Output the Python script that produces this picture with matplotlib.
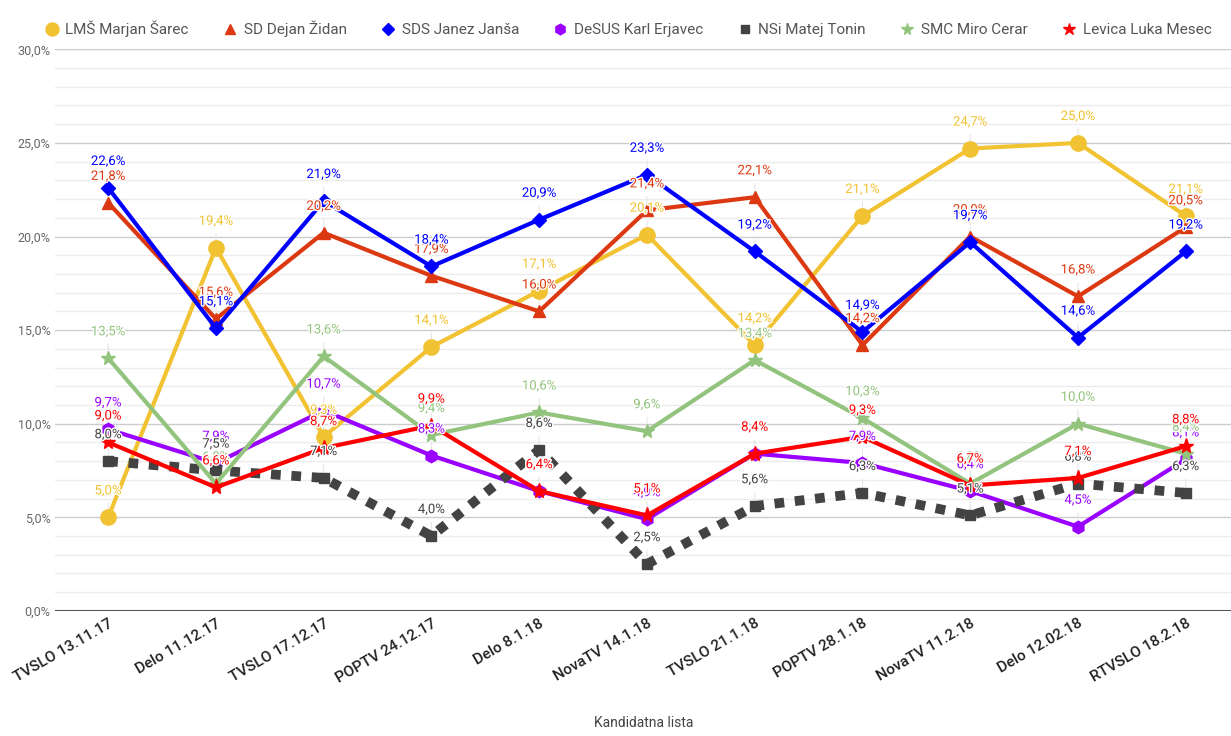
import matplotlib
matplotlib.use("Agg")
import matplotlib.pyplot as plt
import matplotlib.patheffects as pe
from matplotlib.ticker import MultipleLocator, FuncFormatter

plt.rcParams["font.family"] = ["Roboto", "DejaVu Sans"]

polls = ["TVSLO 13.11.17", "Delo 11.12.17", "TVSLO 17.12.17", "POPTV 24.12.17",
         "Delo 8.1.18", "NovaTV 14.1.18", "TVSLO 21.1.18", "POPTV 28.1.18",
         "NovaTV 11.2.18", "Delo 12.02.18", "RTVSLO 18.2.18"]

lms = [5.0, 19.4, 9.3, 14.1, 17.1, 20.1, 14.2, 21.1, 24.7, 25.0, 21.1]
sd = [21.8, 15.6, 20.2, 17.9, 16.0, 21.4, 22.1, 14.2, 20.0, 16.8, 20.5]
sds = [22.6, 15.1, 21.9, 18.4, 20.9, 23.3, 19.2, 14.9, 19.7, 14.6, 19.2]
desus = [9.7, 7.9, 10.7, 8.3, 6.4, 4.9, 8.4, 7.9, 6.4, 4.5, 8.1]
nsi = [8.0, 7.5, 7.1, 4.0, 8.6, 2.5, 5.6, 6.3, 5.1, 6.8, 6.3]
smc = [13.5, 6.8, 13.6, 9.4, 10.6, 9.6, 13.4, 10.3, 6.8, 10.0, 8.4]
levica = [9.0, 6.6, 8.7, 9.9, 6.4, 5.1, 8.4, 9.3, 6.7, 7.1, 8.8]

series = [
    ("LMŠ Marjan Šarec", lms, "#f1c232", "o", 11),
    ("SD Dejan Židan", sd, "#dc3912", "^", 9),
    ("SDS Janez Janša", sds, "#0000ff", "D", 7),
    ("DeSUS Karl Erjavec", desus, "#9900ff", "h", 9),
    ("NSi Matej Tonin", nsi, "#434343", "s", 7),
    ("SMC Miro Cerar", smc, "#93c47d", "*", 10),
    ("Levica Luka Mesec", levica, "#ff0000", "*", 11),
]

fig = plt.figure(figsize=(12.31, 7.36), dpi=100)
ax = fig.add_axes([0.045, 0.170, 0.955, 0.763])
x = list(range(len(polls)))

for i, (name, vals, col, mk, ms) in enumerate(series):
    if name.startswith("NSi"):
        ax.plot(x, vals, color=col, lw=7, linestyle=(0, (1, 1.1)),
                dash_capstyle="butt", marker=mk, ms=ms, label=name, zorder=3 + i)
    else:
        ax.plot(x, vals, color=col, lw=3, marker=mk, ms=ms, label=name, zorder=3 + i)

# data labels with faint leader lines
for i, (name, vals, col, mk, ms) in enumerate(series):
    for xi, v in zip(x, vals):
        ax.annotate(f"{v:.1f}%".replace(".", ","), (xi, v), xytext=(0, 19),
                    textcoords="offset points", ha="center", va="center",
                    fontsize=9.5, color=col, zorder=20,
                    path_effects=[pe.withStroke(linewidth=2, foreground="white")])
        ax.annotate("", (xi, v), xytext=(0, 12), textcoords="offset points",
                    arrowprops=dict(arrowstyle="-", color="#e6e6e6", lw=0.8),
                    zorder=2)

ax.set_xlim(-0.49, 10.42)
ax.set_ylim(0, 30)
ax.yaxis.set_major_locator(MultipleLocator(5))
ax.yaxis.set_minor_locator(MultipleLocator(1))
ax.yaxis.set_major_formatter(FuncFormatter(lambda v, p: f"{v:.1f}%".replace(".", ",")))
ax.grid(axis="y", which="major", color="#cccccc", lw=1)
ax.grid(axis="y", which="minor", color="#ececec", lw=1)
ax.set_axisbelow(True)
ax.axhline(0, color="#555555", lw=1.5, zorder=2)
for s in ax.spines.values():
    s.set_visible(False)
ax.tick_params(axis="y", which="both", length=0, labelsize=9, labelcolor="#666666")
ax.tick_params(axis="x", length=0, labelsize=11, labelcolor="#222222", pad=4)
ax.set_xticks(x)
ax.set_xticklabels(polls, rotation=30, ha="right", rotation_mode="anchor")
for t in ax.get_xticklabels():
    t.set_fontweight("medium")
ax.set_xlabel("Kandidatna lista", fontsize=10, color="#444444", labelpad=22)

ax.legend(loc="upper center", bbox_to_anchor=(0.49, 1.075), ncol=7, frameon=False,
          fontsize=11, labelcolor="#555555", handlelength=0.0, handletextpad=0.9,
          columnspacing=2.7, markerscale=0.85)
leg = ax.get_legend()
for h in leg.legend_handles:
    h.set_linestyle("none")

fig.savefig("out.png", dpi=100)
